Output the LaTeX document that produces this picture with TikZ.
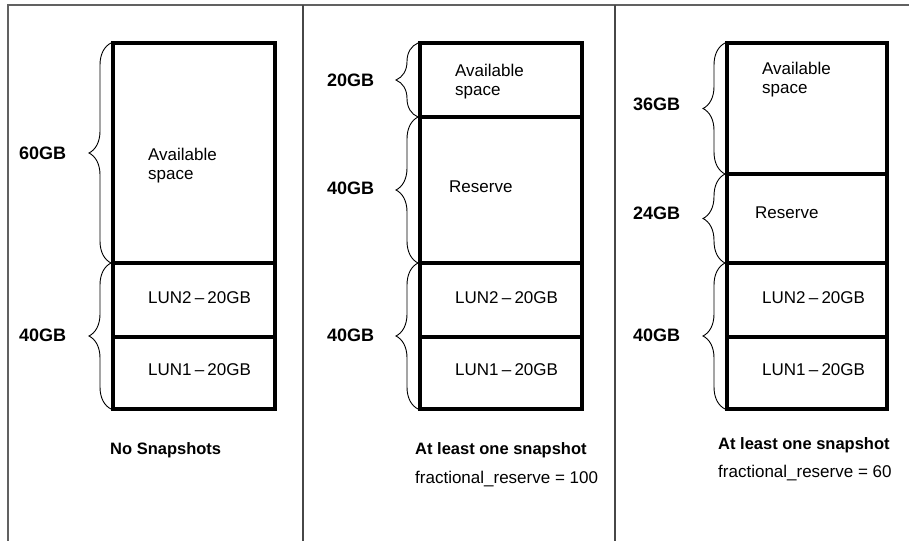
\documentclass[tikz,border=0pt]{standalone}
\usepackage{fontspec}
\setmainfont{Liberation Sans}
\usetikzlibrary{decorations.pathreplacing}
\begin{document}
\begin{tikzpicture}[x=1pt,y=-1pt,
  frameline/.style={draw=black!62, line width=1.6pt},
  paneline/.style={draw=black!72, line width=1.2pt},
  boxline/.style={draw=black, line width=4.5pt},
  divline/.style={draw=black, line width=3.5pt},
  sizebrace/.style={draw=black, decorate, decoration={brace, amplitude=22pt}, line width=0.9pt},
  gblabel/.style={font=\fontsize{18}{20}\selectfont\bfseries, anchor=west, inner sep=0pt},
  intext/.style={font=\fontsize{17}{19}\selectfont, anchor=west, inner sep=0pt, align=left},
  capbold/.style={font=\fontsize{16.5}{20}\selectfont\bfseries, anchor=west, inner sep=0pt},
  capreg/.style={font=\fontsize{17}{20}\selectfont, anchor=west, inner sep=0pt}]
\useasboundingbox (0,0) rectangle (909,541);
\fill[white] (0,0) rectangle (909,541);

% frame and panel separators
\coordinate (fr) at (909,5);
\coordinate (ftl) at (8,5);
\coordinate (fbl) at (8,541);
\draw[frameline] (fr) -- (ftl) -- (fbl);
\coordinate (s1t) at (303,5);
\coordinate (s1b) at (303,541);
\coordinate (s2t) at (615,5);
\coordinate (s2b) at (615,541);
\draw[paneline] (s1t) -- (s1b);
\draw[paneline] (s2t) -- (s2b);

% ---------------- Panel 1 ----------------
\draw[divline] (113,263) -- (275,263);
\draw[divline] (113,337) -- (275,337);
\draw[boxline] (113,43) rectangle (275,409);
\draw[sizebrace] (111,409) -- (111,263);
\draw[sizebrace] (111,263) -- (111,43);
\node[gblabel] (p1a) at (19,153) {60GB};
\node[gblabel] (p1b) at (19,335) {40GB};
\node[intext] (p1avail) at (148,166) {Available\\space};
\node[intext] (p1lun2) at (148,298) {LUN2\hspace{3.2pt}–\hspace{3.2pt}20GB};
\node[intext] (p1lun1) at (148,370) {LUN1\hspace{3.2pt}–\hspace{3.2pt}20GB};
\node[capbold] (p1cap) at (110,450) {No Snapshots};

% ---------------- Panel 2 ----------------
\draw[divline] (420,117) -- (582,117);
\draw[divline] (420,263) -- (582,263);
\draw[divline] (420,337) -- (582,337);
\draw[boxline] (420,43) rectangle (582,409);
\draw[sizebrace] (418,409) -- (418,263);
\draw[sizebrace] (418,263) -- (418,117);
\draw[sizebrace] (418,117) -- (418,43);
\node[gblabel] (p2a) at (327,80) {20GB};
\node[gblabel] (p2b) at (327,188) {40GB};
\node[gblabel] (p2c) at (327,335) {40GB};
\node[intext] (p2avail) at (455,81.5) {Available\\space};
\node[intext] (p2res) at (449,187) {Reserve};
\node[intext] (p2lun2) at (455,298) {LUN2\hspace{3.2pt}–\hspace{3.2pt}20GB};
\node[intext] (p2lun1) at (455,370) {LUN1\hspace{3.2pt}–\hspace{3.2pt}20GB};
\node[capbold] (p2cap1) at (415,450) {At least one snapshot};
\node[capreg] (p2cap2) at (415,479) {fractional\_reserve = 100};

% ---------------- Panel 3 ----------------
\draw[divline] (727,174) -- (887,174);
\draw[divline] (727,263) -- (887,263);
\draw[divline] (727,337) -- (887,337);
\draw[boxline] (727,43) rectangle (887,409);
\draw[sizebrace] (725,409) -- (725,263);
\draw[sizebrace] (725,263) -- (725,174);
\draw[sizebrace] (725,174) -- (725,43);
\node[gblabel] (p3a) at (633,104) {36GB};
\node[gblabel] (p3b) at (633,213) {24GB};
\node[gblabel] (p3c) at (633,335) {40GB};
\node[intext] (p3avail) at (762,80) {Available\\space};
\node[intext] (p3res) at (755,213) {Reserve};
\node[intext] (p3lun2) at (762,298) {LUN2\hspace{3.2pt}–\hspace{3.2pt}20GB};
\node[intext] (p3lun1) at (762,370) {LUN1\hspace{3.2pt}–\hspace{3.2pt}20GB};
\node[capbold] (p3cap1) at (718,445) {At least one snapshot};
\node[capreg] (p3cap2) at (718,473) {fractional\_reserve = 60};
\end{tikzpicture}
\end{document}
